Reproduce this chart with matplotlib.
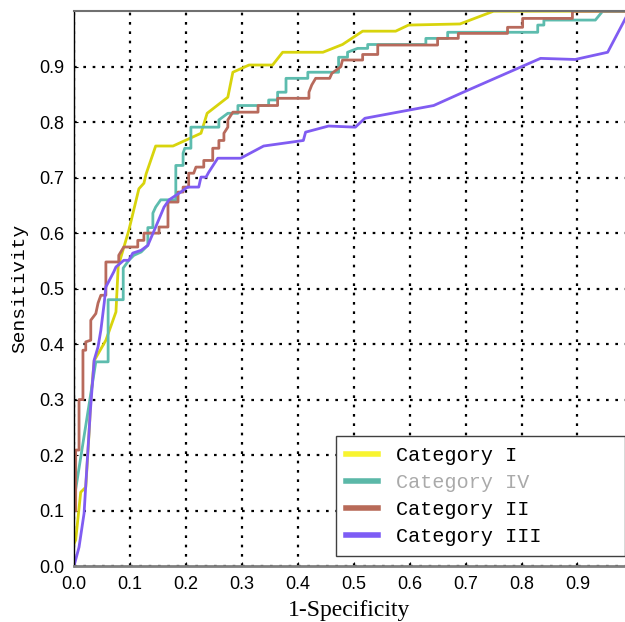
import matplotlib
matplotlib.use("Agg")
import matplotlib.pyplot as plt

# ROC curve vertices (1-specificity, sensitivity)
cat1_x = [0, 0.003, 0.012, 0.021, 0.027, 0.03, 0.036, 0.057, 0.075, 0.079, 0.098, 0.116, 0.125,
          0.129, 0.146, 0.177, 0.227, 0.238, 0.275, 0.284, 0.313, 0.355, 0.373, 0.445, 0.48,
          0.516, 0.575, 0.598, 0.69, 0.75, 0.99]
cat1_y = [0.04, 0.047, 0.133, 0.142, 0.24, 0.30, 0.37, 0.407, 0.458, 0.54, 0.605, 0.68, 0.69,
          0.707, 0.757, 0.757, 0.78, 0.816, 0.845, 0.89, 0.903, 0.903, 0.926, 0.926, 0.94,
          0.964, 0.964, 0.975, 0.977, 1.0, 1.0]

cat4_x = [0, 0.039, 0.061, 0.061, 0.088, 0.088, 0.098, 0.107, 0.12, 0.132, 0.132, 0.141, 0.141,
          0.146, 0.155, 0.182, 0.182, 0.195, 0.195, 0.198, 0.209, 0.209, 0.259, 0.259, 0.275,
          0.293, 0.293, 0.348, 0.348, 0.364, 0.364, 0.379, 0.379, 0.418, 0.418, 0.473, 0.473,
          0.489, 0.489, 0.507, 0.525, 0.525, 0.629, 0.629, 0.668, 0.668, 0.829, 0.829, 0.84,
          0.84, 0.932, 0.945, 0.99]
cat4_y = [0.119, 0.368, 0.368, 0.48, 0.48, 0.537, 0.551, 0.56, 0.566, 0.578, 0.61, 0.61, 0.636,
          0.647, 0.66, 0.66, 0.722, 0.722, 0.744, 0.753, 0.753, 0.791, 0.791, 0.804, 0.816,
          0.816, 0.83, 0.83, 0.84, 0.84, 0.854, 0.854, 0.879, 0.879, 0.89, 0.89, 0.917,
          0.917, 0.926, 0.933, 0.933, 0.94, 0.94, 0.951, 0.951, 0.962, 0.962, 0.975, 0.975,
          0.984, 0.984, 1.0, 1.0]

cat2_x = [0.003, 0.003, 0.009, 0.009, 0.016, 0.016, 0.021, 0.021, 0.03, 0.03, 0.039, 0.043,
          0.048, 0.057, 0.057, 0.080, 0.080, 0.089, 0.114, 0.114, 0.125, 0.125, 0.152, 0.152,
          0.168, 0.168, 0.186, 0.186, 0.195, 0.195, 0.205, 0.205, 0.214, 0.218, 0.232, 0.232,
          0.248, 0.248, 0.259, 0.259, 0.268, 0.268, 0.275, 0.275, 0.284, 0.329, 0.329, 0.364,
          0.364, 0.42, 0.42, 0.425, 0.432, 0.457, 0.461, 0.477, 0.48, 0.516, 0.516, 0.543,
          0.543, 0.65, 0.65, 0.687, 0.687, 0.775, 0.775, 0.802, 0.802, 0.891, 0.891, 0.99]
cat2_y = [0.10, 0.209, 0.209, 0.30, 0.30, 0.389, 0.389, 0.404, 0.407, 0.443, 0.455, 0.474,
          0.488, 0.488, 0.548, 0.548, 0.56, 0.575, 0.575, 0.587, 0.587, 0.6, 0.6, 0.611,
          0.611, 0.656, 0.656, 0.674, 0.674, 0.683, 0.683, 0.708, 0.708, 0.719, 0.719, 0.731,
          0.731, 0.753, 0.753, 0.767, 0.767, 0.78, 0.791, 0.804, 0.818, 0.818, 0.83, 0.83,
          0.843, 0.843, 0.854, 0.867, 0.879, 0.879, 0.888, 0.9, 0.912, 0.912, 0.922, 0.922,
          0.939, 0.939, 0.951, 0.951, 0.96, 0.96, 0.971, 0.971, 0.987, 0.987, 1.0, 1.0]

cat3_x = [0, 0.009, 0.018, 0.023, 0.029, 0.036, 0.043, 0.048, 0.054, 0.057, 0.071, 0.075, 0.089,
          0.098, 0.105, 0.12, 0.132, 0.146, 0.161, 0.17, 0.191, 0.203, 0.223, 0.227, 0.236,
          0.241, 0.257, 0.298, 0.339, 0.41, 0.414, 0.455, 0.503, 0.52, 0.643, 0.696, 0.834,
          0.896, 0.954, 0.99]
cat3_y = [0, 0.034, 0.095, 0.178, 0.276, 0.371, 0.395, 0.425, 0.474, 0.503, 0.53, 0.539, 0.551,
          0.551, 0.564, 0.569, 0.578, 0.611, 0.647, 0.66, 0.674, 0.683, 0.683, 0.701, 0.701,
          0.71, 0.735, 0.735, 0.757, 0.767, 0.782, 0.793, 0.791, 0.807, 0.83, 0.854, 0.915,
          0.913, 0.926, 0.995]

ticks = [0.0, 0.1, 0.2, 0.3, 0.4, 0.5, 0.6, 0.7, 0.8, 0.9]

fig = plt.figure(figsize=(6.25, 6.22), dpi=100)
ax = fig.add_axes([0.1184, 0.09, 0.8816, 0.892])

ax.plot(cat1_x, cat1_y, color='#d8d40c', lw=2, label='Category I')
ax.plot(cat4_x, cat4_y, color='#5dbcae', lw=2, label='Category IV')
ax.plot(cat2_x, cat2_y, color='#b86a5c', lw=2, label='Category II')
ax.plot(cat3_x, cat3_y, color='#805cf2', lw=2, label='Category III')

ax.set_xlim(0, 0.985)
ax.set_ylim(0, 1.0)
ax.set_xticks(ticks)
ax.set_yticks(ticks)
ax.set_xticklabels([f'{t:.1f}' for t in ticks], family='Liberation Sans', fontsize=13)
ax.set_yticklabels([f'{t:.1f}' for t in ticks], family='Liberation Sans', fontsize=13)
ax.tick_params(direction='in', length=3, width=0.8, pad=7)
ax.grid(True, color='black', linestyle=(0, (1.2, 3)), linewidth=1.6)

ax.spines['right'].set_visible(False)
ax.spines['top'].set_color('#707070')
ax.spines['top'].set_linewidth(1.5)
ax.spines['bottom'].set_color('#808080')
ax.spines['bottom'].set_linewidth(2)
ax.spines['left'].set_color('black')
ax.spines['left'].set_linewidth(1)

ax.set_xlabel('1-Specificity', family='Liberation Serif', fontsize=17, labelpad=5)
ax.set_ylabel('Sensitivity', family='Liberation Mono', fontsize=14, labelpad=8)

leg = ax.legend(loc='lower left', bbox_to_anchor=(0.476, 0.018, 0.524, 0.22), mode='expand',
                borderaxespad=0, fancybox=False, framealpha=1,
                edgecolor='#404040', prop={'family': 'Liberation Mono', 'size': 14.5},
                handlelength=1.55, handletextpad=0.9, labelspacing=0.4, borderpad=0.5)
leg.get_frame().set_linewidth(1)
legend_colors = ['#f8f430', '#5bb8a8', '#b86a58', '#7d5cf5']
for line, c in zip(leg.get_lines(), legend_colors):
    line.set_linewidth(4)
    line.set_color(c)
leg.get_texts()[1].set_color('#aaaaaa')

plt.savefig('out.png', dpi=100)
